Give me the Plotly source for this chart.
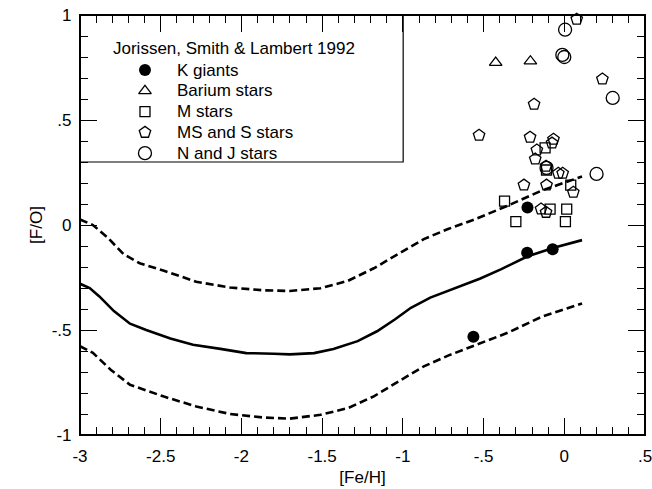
import plotly.graph_objects as go

# ---- data ----
model_feh = [-3.0, -2.94, -2.88, -2.79, -2.69, -2.59, -2.44, -2.30, -2.13, -1.97, -1.80, -1.70,
             -1.55, -1.43, -1.28, -1.16, -1.05, -0.95, -0.83, -0.68, -0.52, -0.39, -0.23, -0.06, 0.11]
model_fo = [-0.28, -0.30, -0.34, -0.41, -0.47, -0.50, -0.54, -0.57, -0.59, -0.61, -0.613, -0.616,
            -0.61, -0.59, -0.553, -0.506, -0.45, -0.394, -0.346, -0.301, -0.255, -0.21, -0.15, -0.107, -0.072]

upper_feh = [-3.0, -2.92, -2.83, -2.73, -2.63, -2.48, -2.28, -2.07, -1.86, -1.70, -1.51, -1.34,
             -1.18, -1.01, -0.87, -0.72, -0.56, -0.35, -0.14, 0.11]
upper_fo = [0.026, 0.0, -0.059, -0.139, -0.182, -0.218, -0.27, -0.298, -0.311, -0.314, -0.301, -0.266,
            -0.206, -0.128, -0.067, -0.019, 0.025, 0.092, 0.164, 0.231]

lower_feh = [-3.0, -2.92, -2.81, -2.69, -2.48, -2.28, -2.07, -1.86, -1.70, -1.51, -1.34,
             -1.18, -1.01, -0.87, -0.72, -0.56, -0.35, -0.14, 0.11]
lower_fo = [-0.577, -0.609, -0.689, -0.761, -0.817, -0.864, -0.90, -0.917, -0.922, -0.904, -0.872,
            -0.816, -0.737, -0.673, -0.622, -0.575, -0.513, -0.437, -0.374]

k_feh = [-0.228, -0.23, -0.072, -0.563]
k_fo = [0.083, -0.132, -0.116, -0.532]

ba_feh = [-0.425, -0.21]
ba_fo = [0.773, 0.78]

m_feh = [-0.119, -0.37, -0.088, 0.015, -0.30, 0.007, 0.04, -0.11]
m_fo = [0.367, 0.114, 0.076, 0.076, 0.016, 0.016, 0.19, 0.262]

ms_feh = [0.077, 0.236, -0.187, -0.528, -0.212, -0.067, -0.076, -0.17, -0.18, -0.113,
          -0.037, -0.01, -0.25, -0.11, 0.056, -0.144, -0.113]
ms_fo = [0.98, 0.695, 0.575, 0.427, 0.418, 0.408, 0.39, 0.357, 0.314, 0.28,
         0.246, 0.246, 0.19, 0.19, 0.156, 0.076, 0.06]

nj_feh = [0.005, -0.012, 0.0, 0.30, 0.20, -0.11]
nj_fo = [0.93, 0.81, 0.80, 0.605, 0.243, 0.272]

x_tickvals = [-3, -2.5, -2, -1.5, -1, -0.5, 0, 0.5]
x_ticktext = ["-3", "-2.5", "-2", "-1.5", "-1", "-.5", "0", ".5"]
y_tickvals = [-1, -0.5, 0, 0.5, 1]
y_ticktext = ["-1", "-.5", "0", ".5", "1"]

legend_title = "Jorissen, Smith &amp; Lambert 1992"
series_names = ["K giants", "Barium stars", "M stars", "MS and S stars", "N and J stars"]

FONT = "Liberation Sans, Arial, Helvetica, sans-serif"

W, H = 652, 489
ML, MR, MT, MB = 80, 7, 15, 54

mk_line = dict(color="black", width=1.3)
marker_styles = [
    dict(symbol="circle", size=12, color="black"),
    dict(symbol="triangle-up-open", size=11, color="black", line=mk_line),
    dict(symbol="square-open", size=10, color="black", line=mk_line),
    dict(symbol="pentagon-open", size=12, color="black", line=mk_line),
    dict(symbol="circle-open", size=13, color="black", line=mk_line),
]
series_x = [k_feh, ba_feh, m_feh, ms_feh, nj_feh]
series_y = [k_fo, ba_fo, m_fo, ms_fo, nj_fo]

fig = go.Figure()

fig.add_trace(go.Scatter(x=upper_feh, y=upper_fo, mode="lines", showlegend=False,
                         line=dict(color="black", width=2.6, dash="8px,4px")))
fig.add_trace(go.Scatter(x=lower_feh, y=lower_fo, mode="lines", showlegend=False,
                         line=dict(color="black", width=2.6, dash="8px,4px")))
fig.add_trace(go.Scatter(x=model_feh, y=model_fo, mode="lines", showlegend=False,
                         line=dict(color="black", width=2.6)))

for name, xs, ys, ms in zip(series_names, series_x, series_y, marker_styles):
    fig.add_trace(go.Scatter(x=xs, y=ys, mode="markers", name=name, showlegend=False,
                             marker=ms, cliponaxis=False))

# hand-drawn legend (box, title, symbols, labels) in plot-domain fractions
leg_sym_x = 0.115
leg_txt_x = 0.168
leg_row0 = 0.869
leg_step = 0.0495
for i, (name, ms) in enumerate(zip(series_names, marker_styles)):
    yy = leg_row0 - i * leg_step
    fig.add_trace(go.Scatter(x=[leg_sym_x], y=[yy], mode="markers", marker=ms, showlegend=False,
                             xaxis="x2", yaxis="y2", hoverinfo="skip"))
    fig.add_annotation(xref="x2", yref="y2", x=leg_txt_x, y=yy, xanchor="left", yanchor="middle",
                       text=name, showarrow=False, font=dict(family=FONT, size=17, color="black"))

fig.add_shape(type="rect", xref="paper", yref="paper", x0=0, x1=0.572, y0=0.65, y1=1,
              line=dict(color="black", width=1.2), fillcolor="rgba(0,0,0,0)", layer="above")
# frame around the plotting area, drawn as separate edge lines
frame_edges = [(0, 1, 1, 1), (1, 0, 1, 1), (0, 0, 1, 0), (0, 0, 0, 1)]
for x0, y0, x1, y1 in frame_edges:
    fig.add_shape(type="line", xref="paper", yref="paper", x0=x0, y0=y0, x1=x1, y1=y1,
                  line=dict(color="black", width=2), layer="above")
fig.add_annotation(xref="paper", yref="paper", x=0.054, y=0.921, xanchor="left", yanchor="middle",
                   text=legend_title, showarrow=False,
                   font=dict(family=FONT, size=17, color="black"))

tick_common = dict(ticks="inside", ticklen=17, tickwidth=1.2, tickcolor="black",
                   showgrid=False, zeroline=False, automargin=False)
minor_ticks = dict(ticks="inside", ticklen=8, tickwidth=1.2, tickcolor="black", dtick=0.1, tick0=0)

fig.update_layout(
    xaxis=dict(range=[-3, 0.5], tickmode="array", tickvals=x_tickvals, ticktext=x_ticktext,
               minor=minor_ticks, showline=True, linecolor="black", linewidth=1.2,
               ticklabelstandoff=5, ticklabeloverflow="allow",
               tickfont=dict(family=FONT, size=17, color="black"),
               title=dict(text="[Fe/H]", font=dict(family=FONT, size=17, color="black"), standoff=6),
               **tick_common),
    yaxis=dict(range=[-1, 1], tickmode="array", tickvals=y_tickvals, ticktext=y_ticktext,
               minor=minor_ticks, showline=True, linecolor="black", linewidth=1.2,
               ticklabelstandoff=4, ticklabeloverflow="allow",
               tickfont=dict(family=FONT, size=17, color="black"),
               title=dict(text="[F/O]", font=dict(family=FONT, size=17, color="black"), standoff=4),
               **tick_common),
    xaxis3=dict(range=[-3, 0.5], overlaying="x", side="top", tickmode="array", tickvals=x_tickvals,
                minor=minor_ticks, showticklabels=False, showline=True, linecolor="black",
                linewidth=1.2, fixedrange=True, **tick_common),
    yaxis3=dict(range=[-1, 1], overlaying="y", side="right", tickmode="array", tickvals=y_tickvals,
                minor=minor_ticks, showticklabels=False, showline=True, linecolor="black",
                linewidth=1.2, fixedrange=True, **tick_common),
    xaxis2=dict(range=[0, 1], overlaying="x", visible=False, fixedrange=True),
    yaxis2=dict(range=[0, 1], overlaying="y", visible=False, fixedrange=True),
    width=W, height=H,
    margin=dict(l=ML, r=MR, t=MT, b=MB),
    paper_bgcolor="white", plot_bgcolor="white",
    font=dict(family=FONT, size=17, color="black"),
    showlegend=False,
)

fig.add_trace(go.Scatter(x=[None], y=[None], xaxis="x3", yaxis="y3", showlegend=False,
                         hoverinfo="skip", mode="markers"))

fig.write_html("out.html", config={"displayModeBar": False},
               post_script="document.body.style.margin='0';document.body.style.overflow='hidden';")
